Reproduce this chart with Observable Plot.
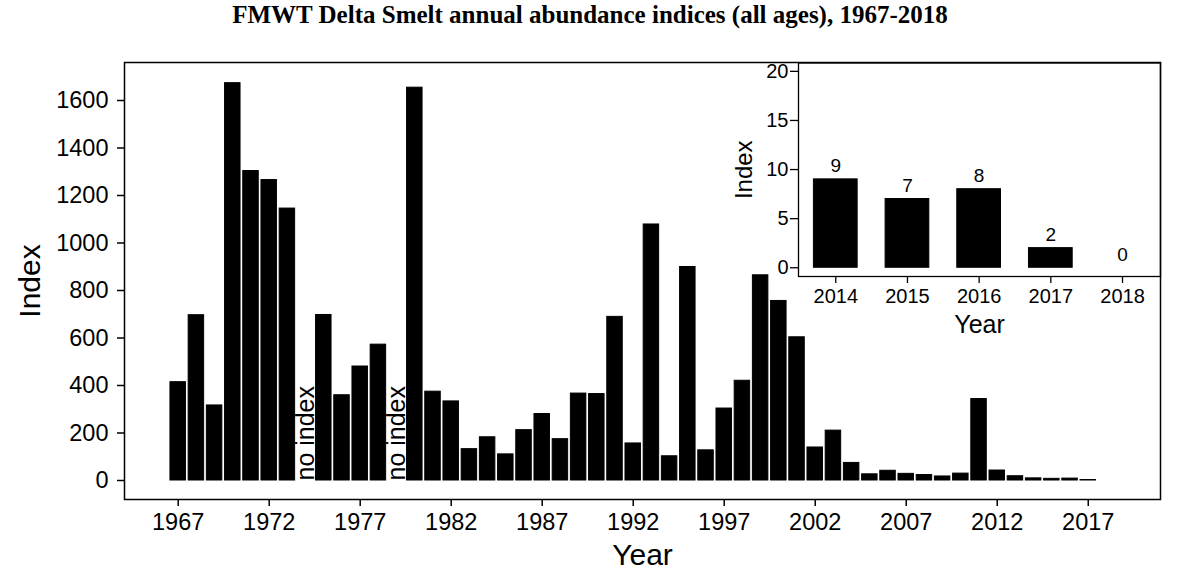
<!DOCTYPE html>
<html>
<head>
<meta charset="utf-8">
<script src="https://cdn.jsdelivr.net/npm/d3@7"></script>
<script src="https://cdn.jsdelivr.net/npm/@observablehq/plot@0.6"></script>
<style>
  body { margin: 0; background: #fff; }
  #title { width: 1180px; height: 40px; text-align: center; font: bold 25px "Liberation Serif", "Times New Roman", serif; line-height: 29px; color: #000; padding: 0; box-sizing: border-box; }
  #wrap { position: relative; width: 1204px; height: 536px; }
  #inset { position: absolute; left: 720px; top: 10px; }
  svg { overflow: visible; }
</style>
</head>
<body>
<div id="title">FMWT Delta Smelt annual abundance indices (all ages), 1967-2018</div>
<div id="wrap"><div id="main"></div><div id="inset"></div></div>
<script>
// Main series: FMWT annual abundance index by year (1974 and 1979: no index)
const years = [1967,1968,1969,1970,1971,1972,1973,1975,1976,1977,1978,1980,1981,1982,1983,1984,1985,1986,1987,1988,1989,1990,1991,1992,1993,1994,1995,1996,1997,1998,1999,2000,2001,2002,2003,2004,2005,2006,2007,2008,2009,2010,2011,2012,2013,2014,2015,2016,2017,2018];
const indices = [414,696,316,1673,1303,1265,1145,697,359,480,572,1654,374,333,132,182,110,212,280,174,366,364,689,156,1078,102,899,127,303,420,864,756,603,139,210,74,26,41,28,23,17,29,343,42,18,9,7,8,2,0];
const noIndexYears = [1974, 1979];
const xTicks = [1967,1972,1977,1982,1987,1992,1997,2002,2007,2012,2017];
const yTicks = [0,200,400,600,800,1000,1200,1400,1600];

// Inset: recent years
const insetYears = [2014,2015,2016,2017,2018];
const insetValues = [9,7,8,2,0];
const insetYTicks = [0,5,10,15,20];

const data = years.map((y, i) => ({year: y, index: indices[i]}));
const insetData = insetYears.map((y, i) => ({year: y, index: insetValues[i]}));

const font = "'Liberation Sans', Arial, Helvetica, sans-serif";

const main = Plot.plot({
  width: 1204, height: 536,
  marginTop: 22, marginBottom: 77, marginLeft: 124, marginRight: 44,
  style: {fontFamily: font, fontSize: "23.5px", background: "transparent", color: "black"},
  x: {domain: [1964.05, 2020.97]},
  y: {domain: [-80, 1760]},
  marks: [
    Plot.rectY(data, {x1: d => d.year - 0.425, x2: d => d.year + 0.425, y1: 0, y2: "index", fill: "black", stroke: "black", strokeWidth: 1}),
    Plot.text(noIndexYears, {x: d => d, y: 0, text: () => "no index", rotate: -90, textAnchor: "start", lineAnchor: "middle", fontSize: 25, fill: "black"}),
    Plot.frame({stroke: "black", strokeWidth: 1.5}),
    Plot.axisX({ticks: xTicks, tickFormat: d => String(d), tickSize: 7, tickPadding: 7, strokeWidth: 1.5, label: null, fontSize: 23.5}),
    Plot.axisY({ticks: yTicks, tickFormat: d => String(d), tickSize: 7, tickPadding: 9, strokeWidth: 1.5, label: null, fontSize: 23.5}),
    Plot.text(["Year"], {frameAnchor: "bottom", dy: 44, lineAnchor: "top", textAnchor: "middle", fontSize: 30, fill: "black"}),
    Plot.text(["Index"], {frameAnchor: "left", dx: -106, rotate: -90, lineAnchor: "top", textAnchor: "middle", fontSize: 30, fill: "black"})
  ]
});
document.getElementById("main").appendChild(main);

const inset = Plot.plot({
  width: 445, height: 295,
  marginTop: 12.5, marginBottom: 69, marginLeft: 78, marginRight: 5,
  style: {fontFamily: font, fontSize: "20px", background: "transparent", color: "black"},
  x: {domain: [2013.48, 2018.53]},
  y: {domain: [-0.89, 20.85]},
  marks: [
    Plot.rectY(insetData, {x1: d => d.year - 0.305, x2: d => d.year + 0.305, y1: 0, y2: "index", fill: "black", stroke: "black", strokeWidth: 1}),
    Plot.text(insetData, {x: "year", y: "index", text: d => String(d.index), dy: -7, lineAnchor: "bottom", fontSize: 19, fill: "black"}),
    Plot.frame({stroke: "black", strokeWidth: 1.3}),
    Plot.axisX({ticks: insetYears, tickFormat: d => String(d), tickSize: 7, tickPadding: 5, strokeWidth: 1.3, label: null, fontSize: 20}),
    Plot.axisY({ticks: insetYTicks, tickFormat: d => String(d), tickSize: 8, tickPadding: 2, strokeWidth: 1.3, label: null, fontSize: 20}),
    Plot.text(["Year"], {frameAnchor: "bottom", dy: 39, lineAnchor: "top", textAnchor: "middle", fontSize: 25, fill: "black"}),
    Plot.text(["Index"], {frameAnchor: "left", dx: -64, rotate: -90, lineAnchor: "top", textAnchor: "middle", fontSize: 24, fill: "black"})
  ]
});
document.getElementById("inset").appendChild(inset);
</script>
</body>
</html>
